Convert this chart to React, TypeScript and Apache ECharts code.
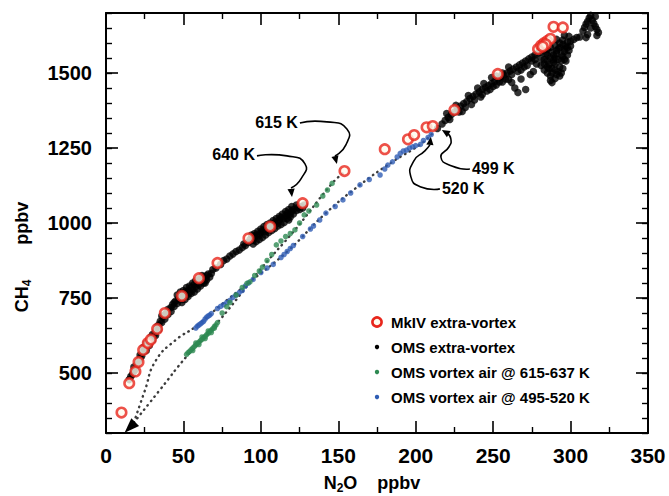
import React, { useEffect, useRef } from "react";
import * as echarts from "echarts";

// ---------- data (N2O ppbv, CH4 ppbv) ----------
const mkivExtraVortex: [number, number][] = [
  [10, 368], [15, 466], [19, 505], [21, 537], [24, 577], [27, 600], [29, 612], [33, 647],
  [38, 700], [49, 757], [60, 816], [72, 867], [92, 949], [106, 988], [127, 1066], [154, 1173],
  [180, 1246], [195, 1279], [199, 1293], [207, 1319], [211, 1323], [225, 1377], [253, 1497],
  [279, 1580], [281, 1592], [283, 1600], [285, 1607], [287, 1614], [284, 1596], [282, 1588],
  [289, 1654], [295, 1652],
];

const omsExtraVortex: [number, number][] = [
  [15, 478], [16, 488], [17, 495], [18, 505], [18, 520], [19, 512], [20, 528], [21, 540], [22, 548],
  [22, 560], [23, 556], [24, 570], [25, 580], [26, 588], [26, 600], [27, 596], [28, 606], [29, 620],
  [30, 628], [31, 625], [32, 640], [33, 655], [34, 660], [35, 672], [36, 668], [37, 688], [38, 695],
  [39, 702], [40, 712], [42, 718], [43, 728], [44, 735], [45, 740], [46, 732], [47, 748], [48, 752],
  [49, 745], [50, 760], [51, 770], [52, 758], [53, 775], [54, 768], [55, 785], [56, 778], [57, 795],
  [58, 788], [59, 802], [60, 795], [61, 812], [62, 805], [63, 820], [64, 812], [65, 825], [66, 830],
  [68, 832], [69, 845], [71, 850], [74, 862], [76, 875], [78, 880], [80, 890], [82, 897], [84, 905],
  [86, 910], [88, 918], [89, 930], [90, 925], [92, 935], [93, 945], [95, 942], [96, 952], [97, 960],
  [99, 958], [100, 968], [101, 975], [103, 972], [104, 985], [105, 990], [107, 985], [108, 995],
  [109, 1002], [111, 1000], [112, 1010], [113, 1018], [115, 1015], [116, 1025], [117, 1032],
  [119, 1030], [120, 1040], [121, 1045], [123, 1042], [124, 1052], [126, 1055], [128, 1060],
  [120, 1055], [118, 1010],
  [24, 585], [26, 575], [28, 592], [30, 610], [32, 625], [34, 645], [36, 690], [38, 680], [40, 695],
  [42, 705], [44, 722], [46, 760], [48, 770], [50, 775], [52, 785], [54, 790], [56, 800], [58, 808],
  [60, 815], [62, 825], [64, 800], [49, 735], [51, 745], [53, 755], [55, 765], [57, 770], [59, 780],
  [61, 790], [63, 800], [65, 810], [67, 820], [94, 960], [96, 965], [98, 972], [100, 980], [102, 988],
  [104, 995], [106, 1000], [108, 1008], [110, 1015], [112, 1022], [114, 1030], [116, 1038],
  [118, 1045], [95, 930], [97, 938], [99, 945], [101, 952], [103, 960], [105, 968], [107, 975],
  [109, 982], [111, 990], [113, 995], [115, 1002], [117, 1015], [119, 1020], [121, 1030],
  [123, 1060], [125, 1045], [127, 1050],
  [214, 1315], [217, 1330], [219, 1342], [221, 1352], [223, 1362], [225, 1370], [227, 1380],
  [229, 1390], [231, 1398], [233, 1405], [235, 1415], [237, 1422], [239, 1430], [241, 1437],
  [243, 1445], [245, 1452], [247, 1458], [249, 1465], [251, 1472], [253, 1480], [255, 1487],
  [257, 1493], [259, 1500], [261, 1507], [263, 1513], [265, 1520], [267, 1527], [269, 1533],
  [271, 1540], [273, 1547], [275, 1553], [277, 1560], [279, 1567], [220, 1365], [226, 1392],
  [230, 1372], [234, 1425], [238, 1410], [240, 1450], [243, 1428], [246, 1440], [249, 1485],
  [252, 1460], [256, 1470], [260, 1478], [262, 1468], [264, 1450], [266, 1435], [268, 1480],
  [271, 1445], [274, 1495], [276, 1505], [278, 1530], [281, 1525], [283, 1545], [285, 1560],
  [285, 1500], [287, 1490], [288, 1515], [289, 1535], [290, 1550], [291, 1565], [292, 1580],
  [292, 1505], [293, 1520], [294, 1540], [295, 1555], [296, 1572], [297, 1590], [290, 1592],
  [288, 1570], [287, 1585], [293, 1600], [295, 1610], [298, 1603], [300, 1606], [302, 1612],
  [304, 1618], [306, 1620], [297, 1540], [295, 1515], [293, 1490], [290, 1482], [288, 1468],
  [286, 1528], [284, 1565], [281, 1548], [280, 1575], [291, 1612], [296, 1626], [299, 1622],
  [283, 1530], [285, 1540], [287, 1550], [289, 1560], [291, 1575], [293, 1585], [295, 1595],
  [290, 1530], [292, 1545], [294, 1560], [296, 1580], [298, 1585], [286, 1515], [288, 1500],
  [290, 1510], [294, 1500], [296, 1545], [298, 1560], [299, 1575], [300, 1590], [283, 1510],
  [285, 1520], [287, 1475], [291, 1495], [289, 1545], [285, 1580], [283, 1580], [281, 1570],
  [232, 1385], [236, 1395], [244, 1465], [248, 1445], [252, 1490], [256, 1500], [258, 1480],
  [262, 1495], [266, 1505], [270, 1520], [272, 1525], [275, 1540], [277, 1545], [268, 1510],
  [260, 1520], [254, 1470], [250, 1455], [242, 1420], [228, 1370], [222, 1345],
  [308, 1640], [309, 1652], [310, 1663], [311, 1672], [312, 1683], [313, 1692], [314, 1676],
  [315, 1665], [316, 1655], [317, 1645], [318, 1635], [317, 1625], [316, 1688], [313, 1650],
  [311, 1628], [310, 1618],
];

const omsVortex615: [number, number][] = [
  [52, 562], [53, 568], [54, 572], [55, 578], [56, 583], [57, 588], [58, 593], [59, 598], [60, 603],
  [61, 608], [62, 612], [63, 618], [64, 622], [65, 628], [66, 632], [67, 638], [68, 643], [69, 648],
  [70, 655], [71, 660], [72, 668], [56, 575], [58, 600], [60, 595], [62, 620], [64, 615], [66, 640],
  [68, 635], [70, 650],
  [75, 700], [78, 721], [80, 735], [84, 760], [88, 785], [91, 799], [93, 804], [96, 825], [99, 840],
  [101, 853], [104, 875], [107, 895], [110, 927], [113, 940], [116, 955], [119, 965], [122, 977],
  [125, 1000], [128, 1027], [131, 1040], [136, 1060], [140, 1090], [143, 1110], [146, 1132],
];

const omsVortex495: [number, number][] = [
  [58, 650], [59, 656], [60, 660], [61, 664], [62, 668], [63, 672], [64, 680], [65, 686], [66, 690],
  [67, 693], [68, 698], [72, 715], [74, 722], [76, 728], [78, 735], [80, 742], [82, 752], [84, 760],
  [86, 768], [88, 775], [90, 790], [92, 800], [95, 812], [100, 835], [104, 850], [108, 862],
  [113, 885], [115, 895], [117, 905], [119, 915], [121, 925], [127, 955], [132, 980], [134, 990],
  [138, 1010], [142, 1033], [148, 1055], [153, 1077], [158, 1100], [164, 1127], [170, 1145],
  [177, 1160], [180, 1180], [182, 1193], [185, 1204], [188, 1220], [190, 1232], [192, 1240],
  [194, 1243], [196, 1250], [198, 1254], [200, 1258], [203, 1262], [205, 1275], [208, 1285],
  [210, 1295],
];

// mixing curves (dotted)
const mixingLine615: [number, number][] = [
  [18, 335], [35, 445], [52, 555], [72, 668], [101, 853], [122, 977], [146, 1132], [154, 1170],
];
const mixingLine495: [number, number][] = [
  [18, 335], [25, 440], [32, 540], [45, 610], [58, 655], [75, 730], [92, 800], [117, 905],
  [142, 1033], [164, 1127], [185, 1204], [203, 1262], [211, 1300],
];
const vortexArrowTip: [number, number] = [12, 301];
const vortexArrowBase: [number, number] = [19, 337];

const xMajorStep = 50;
const xMinorStep = 25;
const yMinorStep = 50;
const yLabelValues = [500, 750, 1000, 1250, 1500];

const annotations = [
  { label: "615 K", tip: [149.1, 1197], side: "left" },
  { label: "640 K", tip: [120.1, 1087], side: "left" },
  { label: "520 K", tip: [209.8, 1287], side: "right" },
  { label: "499 K", tip: [216.9, 1310], side: "right" },
];

const legendItems = [
  { name: "MkIV extra-vortex" },
  { name: "OMS extra-vortex" },
  { name: "OMS vortex air @ 615-637 K" },
  { name: "OMS vortex air @ 495-520 K" },
];

// ---------- styling ----------
const FONT = "'Liberation Sans', Arial, Helvetica, sans-serif";
const RED = "#e8261c";
const BLACK = "#000000";
const GREEN = "#2e8a52";
const BLUE = "#2f5db4";
const DOT_LINE = "#3c3c3c";

const annotationShapes: Record<string, { text: [number, number]; pts: [number, number][] }> = {
  "615 K": { text: [-39, -41], pts: [[-37, -41], [-10, -42], [10, -35], [9, -19], [-2, -8]] },
  "640 K": { text: [-37, -42], pts: [[-35, -41], [-5, -41], [13, -33], [9, -18], [-1, -9]] },
  "520 K": { text: [11, 52], pts: [[9, 52], [-10, 50], [-20, 40], [-17, 24], [-6, 14], [-1, 8]] },
  "499 K": { text: [30, 38], pts: [[28, 39], [10, 36], [-1, 27], [7, 17], [9, 9], [5, 3]] },
};

function arrowHead(tip: number[], from: number[], len = 9, half = 3.8) {
  const dx = tip[0] - from[0];
  const dy = tip[1] - from[1];
  const d = Math.hypot(dx, dy) || 1;
  const ux = dx / d, uy = dy / d;
  const nx = -uy, ny = ux;
  return [
    [tip[0], tip[1]],
    [tip[0] - ux * len + nx * half, tip[1] - uy * len + ny * half],
    [tip[0] - ux * len - nx * half, tip[1] - uy * len - ny * half],
  ];
}

export default function App() {
  const ref = useRef<HTMLDivElement>(null);

  useEffect(() => {
    if (!ref.current) return;
    const chart = echarts.init(ref.current, null, { renderer: "svg" });

    const axisLine = { show: true, lineStyle: { color: BLACK, width: 2 } };
    const noLabel = { show: false };
    const gridBox = { left: 106, right: 21, top: 13, bottom: 63 };

    const xBase = { type: "value", min: 0, max: 350, splitLine: { show: false } };
    const yBase = { type: "value", min: 300, max: 1700, splitLine: { show: false } };

    const option: any = {
      animation: false,
      backgroundColor: "#ffffff",
      grid: { ...gridBox, containLabel: false },
      xAxis: [
        {
          ...xBase, position: "bottom", interval: xMajorStep,
          axisLine,
          axisTick: { show: true, inside: true, length: 12, lineStyle: { color: BLACK, width: 1.6 } },
          minorTick: { show: true, splitNumber: xMajorStep / xMinorStep, length: 6, lineStyle: { color: BLACK, width: 1.4 } },
          axisLabel: { show: true, margin: 12, color: BLACK, fontSize: 21, fontWeight: "bold", fontFamily: FONT },
        },
        {
          ...xBase, position: "top", interval: xMajorStep,
          axisLine,
          axisTick: { show: true, inside: true, length: 12, lineStyle: { color: BLACK, width: 1.6 } },
          minorTick: { show: true, splitNumber: xMajorStep / xMinorStep, length: 6, lineStyle: { color: BLACK, width: 1.4 } },
          axisLabel: noLabel,
        },
      ],
      yAxis: [
        {
          ...yBase, position: "left", interval: yMinorStep,
          axisLine,
          axisTick: { show: true, inside: true, length: 6, lineStyle: { color: BLACK, width: 1.4 } },
          axisLabel: {
            show: true, margin: 14, color: BLACK, fontSize: 20, fontWeight: "bold", fontFamily: FONT,
            formatter: (v: number) => (yLabelValues.includes(v) ? String(v) : ""),
          },
        },
        {
          ...yBase, position: "left",
          axisLine: { show: false },
          axisTick: { show: true, inside: true, length: 12, customValues: yLabelValues, lineStyle: { color: BLACK, width: 1.6 } },
          axisLabel: noLabel,
        },
        {
          ...yBase, position: "right", interval: yMinorStep,
          axisLine,
          axisTick: { show: true, inside: true, length: 6, lineStyle: { color: BLACK, width: 1.4 } },
          axisLabel: noLabel,
        },
        {
          ...yBase, position: "right",
          axisLine: { show: false },
          axisTick: { show: true, inside: true, length: 12, customValues: yLabelValues, lineStyle: { color: BLACK, width: 1.6 } },
          axisLabel: noLabel,
        },
      ],
      series: [
        {
          name: "mixing 615", type: "line", data: mixingLine615, xAxisIndex: 0, yAxisIndex: 0,
          smooth: true, symbol: "none", silent: true,
          lineStyle: { color: DOT_LINE, width: 2.4, type: [0.5, 5], cap: "round" }, z: 1,
        },
        {
          name: "mixing 495", type: "line", data: mixingLine495, xAxisIndex: 0, yAxisIndex: 0,
          smooth: true, symbol: "none", silent: true,
          lineStyle: { color: DOT_LINE, width: 2.4, type: [0.5, 5], cap: "round" }, z: 1,
        },
        {
          name: legendItems[3].name, type: "scatter", data: omsVortex495, xAxisIndex: 0, yAxisIndex: 0,
          symbol: "circle", symbolSize: 5.5, itemStyle: { color: BLUE }, z: 2,
        },
        {
          name: legendItems[2].name, type: "scatter", data: omsVortex615, xAxisIndex: 0, yAxisIndex: 0,
          symbol: "circle", symbolSize: 5.5, itemStyle: { color: GREEN }, z: 3,
        },
        {
          name: legendItems[1].name, type: "scatter", data: omsExtraVortex, xAxisIndex: 0, yAxisIndex: 0,
          symbol: "circle", symbolSize: 7.5, itemStyle: { color: BLACK }, z: 4,
        },
        {
          name: legendItems[0].name, type: "scatter", data: mkivExtraVortex, xAxisIndex: 0, yAxisIndex: 0,
          symbol: "circle", symbolSize: 9.5,
          itemStyle: { color: "#fffbee", borderColor: RED, borderWidth: 2.6 }, z: 5,
        },
      ],
    };

    chart.setOption(option);

    const toPx = (p: number[]) => chart.convertToPixel({ seriesIndex: 2 }, p) as number[];
    const graphics: any[] = [];

    const tipPx = toPx(vortexArrowTip);
    const basePx = toPx(vortexArrowBase);
    graphics.push({
      type: "polygon", silent: true, z: 10,
      shape: { points: arrowHead(tipPx, basePx, 15, 5.5) },
      style: { fill: BLACK },
    });

    annotations.forEach((a) => {
      const t = toPx(a.tip);
      const s = annotationShapes[a.label];
      const pts = s.pts.map(([dx, dy]) => [t[0] + dx, t[1] + dy]);
      graphics.push({
        type: "polyline", silent: true, z: 10,
        shape: { points: pts, smooth: 0.6 },
        style: { stroke: BLACK, lineWidth: 1.6, fill: "none" },
      });
      graphics.push({
        type: "polygon", silent: true, z: 10,
        shape: { points: arrowHead(t, pts[pts.length - 1], 8, 3.6) },
        style: { fill: BLACK },
      });
      graphics.push({
        type: "text", silent: true, z: 10,
        x: t[0] + s.text[0], y: t[1] + s.text[1],
        style: {
          text: a.label, fill: BLACK, fontSize: 16, fontWeight: "bold", fontFamily: FONT,
          align: a.side === "left" ? "right" : "left", verticalAlign: "middle",
        },
      });
    });

    const lgX = 377, lgY = 322, lgStep = 25;
    legendItems.forEach((item, i) => {
      const cy = lgY + i * lgStep;
      if (i === 0) {
        graphics.push({
          type: "circle", silent: true, z: 10,
          shape: { cx: lgX, cy, r: 4.6 },
          style: { fill: "#fffbee", stroke: RED, lineWidth: 2.6 },
        });
      } else {
        const col = i === 1 ? BLACK : i === 2 ? GREEN : BLUE;
        graphics.push({
          type: "circle", silent: true, z: 10,
          shape: { cx: lgX, cy, r: 2.2 },
          style: { fill: col },
        });
      }
      graphics.push({
        type: "text", silent: true, z: 10, x: lgX + 14, y: cy,
        style: {
          text: item.name, fill: BLACK, fontSize: 15, fontWeight: "bold", fontFamily: FONT,
          align: "left", verticalAlign: "middle",
        },
      });
    });

    graphics.push({
      type: "text", silent: true, z: 10, x: 372, y: 483,
      style: {
        text: "{b|N}{s|2}{b|O    ppbv}",
        align: "center", verticalAlign: "middle", fill: BLACK,
        rich: {
          b: { fontSize: 18, fontWeight: "bold", fontFamily: FONT, lineHeight: 22, fill: BLACK },
          s: { fontSize: 12, fontWeight: "bold", fontFamily: FONT, lineHeight: 14, verticalAlign: "bottom", fill: BLACK },
        },
      },
    });
    graphics.push({
      type: "text", silent: true, z: 10, x: 22, y: 257, rotation: Math.PI / 2,
      style: {
        text: "{b|CH}{s|4}{b|       ppbv}",
        align: "center", verticalAlign: "middle", fill: BLACK,
        rich: {
          b: { fontSize: 18, fontWeight: "bold", fontFamily: FONT, lineHeight: 22, fill: BLACK },
          s: { fontSize: 12, fontWeight: "bold", fontFamily: FONT, lineHeight: 14, verticalAlign: "bottom", fill: BLACK },
        },
      },
    });

    chart.setOption({ graphic: graphics });

    return () => chart.dispose();
  }, []);

  return (
    <div
      ref={ref}
      style={{ position: "fixed", left: 0, top: 0, width: 669, height: 496, background: "#fff" }}
    />
  );
}
